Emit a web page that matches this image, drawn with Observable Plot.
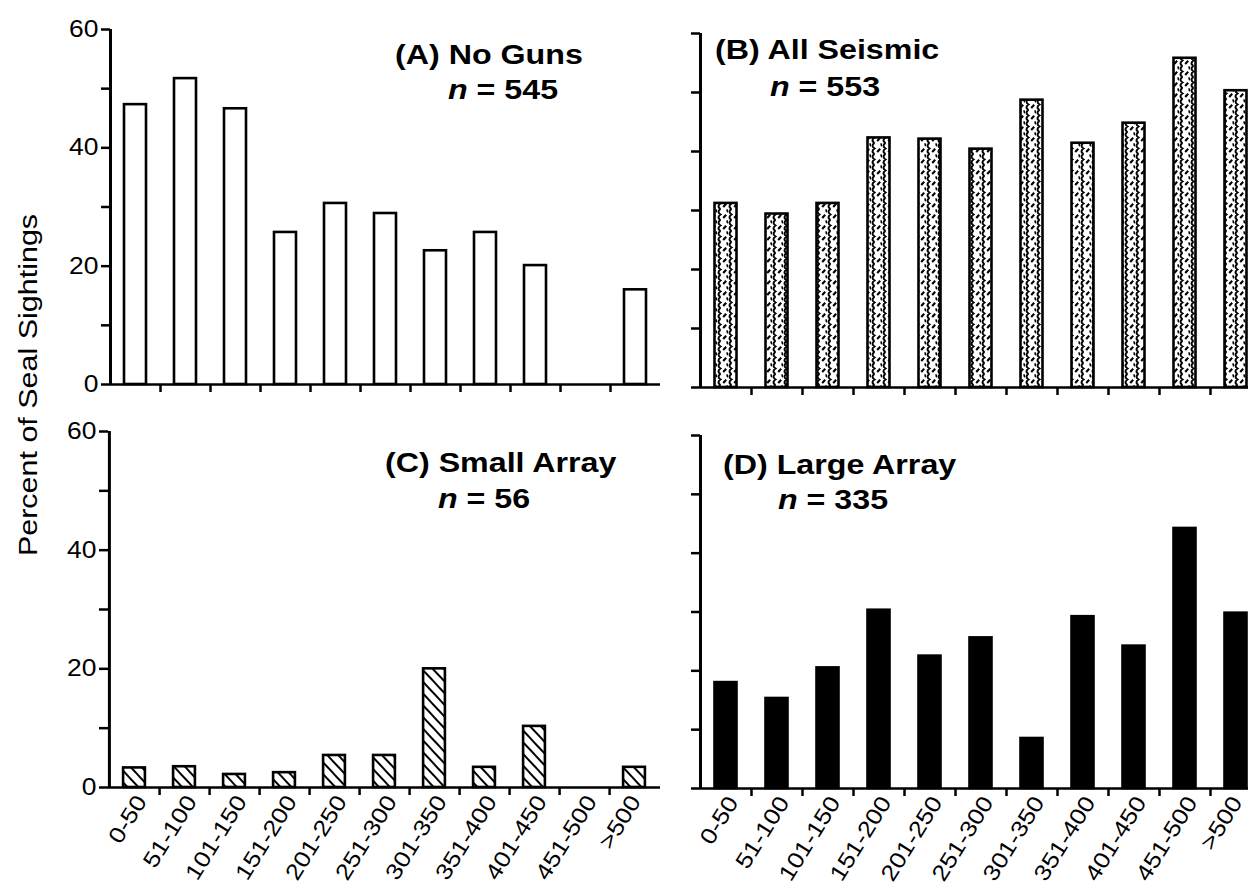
<!DOCTYPE html>
<html>
<head>
<meta charset="utf-8">
<script src="https://cdn.jsdelivr.net/npm/d3@7"></script>
<script src="https://cdn.jsdelivr.net/npm/@observablehq/plot@0.6"></script>
<style>
html, body { margin: 0; padding: 0; width: 1248px; height: 887px; overflow: hidden; background: #fff; }
body { font-family: "Liberation Sans", Arial, Helvetica, sans-serif; color: #000; }
#wrap { position: relative; width: 1248px; height: 887px; overflow: hidden; }
.panel { position: absolute; }
.panel svg { background: transparent; max-width: none; }
.title { position: absolute; font-weight: bold; font-size: 28px; line-height: 28px; white-space: nowrap; transform: scaleX(1.15); transform-origin: 0 50%; }
.ylab { position: absolute; font-size: 26.5px; line-height: 26.5px; white-space: nowrap; left: 28px; top: 385px; transform: translate(-50%, -50%) rotate(-90deg) scaleX(1.15); }
</style>
</head>
<body>
<svg width="0" height="0" style="position:absolute">
  <defs>
    <pattern id="hatchC" patternUnits="userSpaceOnUse" width="8" height="8" patternTransform="rotate(47)">
      <rect width="8" height="8" fill="white"/>
      <line x1="0" y1="4" x2="8" y2="4" stroke="black" stroke-width="2"/>
    </pattern>
    <pattern id="texB" patternUnits="userSpaceOnUse" width="11" height="11">
      <rect width="11" height="11" fill="white"/>
      <path d="M3.5,0 Q-0.5,2.8 3.5,5.5 Q-0.5,8.2 3.5,11" fill="none" stroke="black" stroke-width="2"/>
      <path d="M6.2,9 L9.2,5.8" stroke="black" stroke-width="2.1"/>
      <path d="M9.5,0.5 Q11.5,1.8 9.8,3" fill="none" stroke="black" stroke-width="1.5"/>
    </pattern>
  </defs>
</svg>
<div id="wrap"></div>
<script>
// ---- data ----
const categories = ["0-50", "51-100", "101-150", "151-200", "201-250", "251-300", "301-350", "351-400", "401-450", "451-500", ">500"];
const noGuns     = [47.3, 51.7, 46.6, 25.7, 30.6, 28.9, 22.6, 25.7, 20.1, 0, 16.0];
const allSeismic = [31.2, 29.4, 31.2, 42.3, 42.1, 40.4, 48.7, 41.4, 44.8, 55.8, 50.3];
const smallArray = [3.3, 3.5, 2.2, 2.5, 5.4, 5.4, 20.0, 3.4, 10.3, 0, 3.4];
const largeArray = [18.0, 15.3, 20.5, 30.3, 22.5, 25.6, 8.5, 29.2, 24.2, 44.2, 29.8];
const yTicks  = [0, 10, 20, 30, 40, 50, 60];
const yLabels = [0, 20, 40, 60];
const yLabelTitle = "Percent of Seal Sightings";
const panelTitles = [
  {line1: "(A) No Guns",      n: "545"},
  {line1: "(B) All Seismic",  n: "553"},
  {line1: "(C) Small Array",  n: "56"},
  {line1: "(D) Large Array",  n: "335"}
];

const K = 1.15; // horizontal widening of the original typeface
function stretchText(svg, k) {
  svg.querySelectorAll("text").forEach(t => {
    const tr = t.getAttribute("transform") || "";
    const x = t.getAttribute("x"), y = t.getAttribute("y");
    if (x != null || y != null) {
      const xv = +x || 0, yv = +y || 0;
      t.setAttribute("transform", `${tr} translate(${xv},${yv}) scale(${k},1) translate(${-xv},${-yv})`);
    } else {
      t.setAttribute("transform", `${tr} scale(${k},1)`);
    }
  });
}

function panel(cfg) {
  const data = categories.map((c, i) => ({cat: c, value: cfg.values[i]}));
  const step = (cfg.range[1] - cfg.range[0]) / categories.length;
  const inset = (step - 22) / 2;
  const yMax = d3.max(yTicks);
  const marks = [
    Plot.barY(data, {x: "cat", y: "value", fill: cfg.fill, stroke: "black", strokeWidth: 2.6, insetLeft: inset, insetRight: inset}),
    Plot.ruleY([0], {stroke: "black", strokeWidth: 2.6}),
    Plot.ruleX([{c: categories[0], lo: 0, hi: yMax}], {x: "c", y1: "lo", y2: "hi", dx: -step / 2, stroke: "black", strokeWidth: 3}),
    Plot.axisY(yTicks, {tickSize: 9, tickPadding: 3, strokeWidth: 2.5, label: null, fontSize: 23,
      tickFormat: d => (cfg.showY && yLabels.includes(d)) ? String(d) : ""}),
    Plot.axisX(categories.slice(0, -1), {tickSize: 8, dx: step / 2, strokeWidth: 2.5, label: null, tickFormat: () => ""})
  ];
  if (cfg.showX) {
    const labelOpts = {x: d => d, frameAnchor: "bottom", text: d => d, rotate: -58,
      textAnchor: "end", lineAnchor: "middle", dy: 10, fontSize: 22.5, fill: "black"};
    marks.push(Plot.text(categories.slice(0, -1), {...labelOpts, dx: 7}));
    marks.push(Plot.text(categories.slice(-1), {...labelOpts, dx: 1}));
  }
  const chart = Plot.plot({
    width: cfg.width, height: cfg.height,
    marginLeft: cfg.mL, marginRight: cfg.mR, marginTop: cfg.mT, marginBottom: cfg.mB,
    x: {type: "band", domain: categories, range: cfg.range, padding: 0},
    y: {domain: [0, yMax]},
    style: {fontFamily: '"Liberation Sans", Arial, Helvetica, sans-serif', fontSize: "23px", color: "black", background: "transparent", maxWidth: "none", overflow: "visible"},
    marks
  });
  stretchText(chart, K);
  const div = document.createElement("div");
  div.className = "panel";
  div.style.left = cfg.left + "px";
  div.style.top = cfg.top + "px";
  div.style.width = cfg.width + "px";
  div.style.height = cfg.height + "px";
  div.appendChild(chart);
  document.getElementById("wrap").appendChild(div);
}

panel({values: noGuns, fill: "white", left: 0, top: 0, width: 680, height: 410, mL: 110, mR: 20, mT: 29, mB: 26, range: [110, 660], showY: true, showX: false});
panel({values: allSeismic, fill: "url(#texB)", left: 640, top: 0, width: 608, height: 410, mL: 60, mR: 0, mT: 33, mB: 23, range: [60, 621], showY: false, showX: false});
panel({values: smallArray, fill: "url(#hatchC)", left: 0, top: 410, width: 680, height: 477, mL: 108, mR: 20, mT: 21, mB: 100, range: [108, 660], showY: true, showX: true});
panel({values: largeArray, fill: "black", left: 640, top: 410, width: 608, height: 477, mL: 60, mR: 0, mT: 25, mB: 99, range: [60, 621], showY: false, showX: true});

// titles (baseline - 23.7 = top)
const titlePos = [
  {l1: [395, 41.3], l2: [448, 76.3]},
  {l1: [715, 36.3], l2: [770, 73.3]},
  {l1: [385, 449.3], l2: [438, 485.3]},
  {l1: [723, 451.3], l2: [778, 486.3]}
];
const wrap = document.getElementById("wrap");
panelTitles.forEach((t, i) => {
  const a = document.createElement("div");
  a.className = "title";
  a.style.left = titlePos[i].l1[0] + "px"; a.style.top = titlePos[i].l1[1] + "px";
  a.textContent = t.line1;
  wrap.appendChild(a);
  const b = document.createElement("div");
  b.className = "title";
  b.style.left = titlePos[i].l2[0] + "px"; b.style.top = titlePos[i].l2[1] + "px";
  const it = document.createElement("i"); it.textContent = "n";
  b.appendChild(it);
  b.appendChild(document.createTextNode(" = " + t.n));
  wrap.appendChild(b);
});
const yl = document.createElement("div");
yl.className = "ylab";
yl.textContent = yLabelTitle;
wrap.appendChild(yl);
</script>
</body>
</html>
